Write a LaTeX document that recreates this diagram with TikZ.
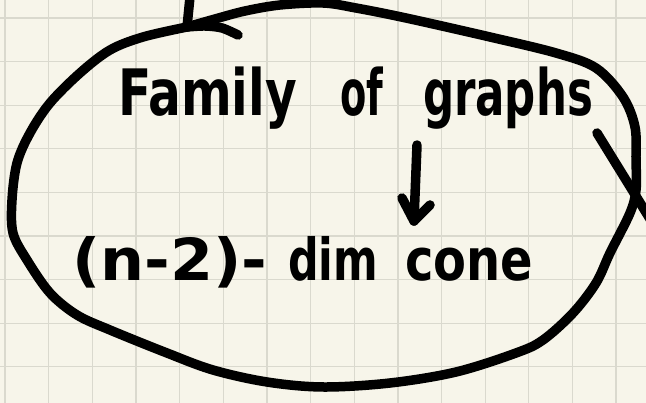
\documentclass[tikz,border=0pt]{standalone}
\usepackage{fontspec}
\setmainfont{DejaVu Sans}
\definecolor{paper}{HTML}{F7F5EA}
\definecolor{gridc}{HTML}{DAD9CE}
\begin{document}
\begin{tikzpicture}[x=1pt,y=-1pt,
  ink/.style={line width=9.5pt,line cap=round,line join=round,black},
  gridline/.style={gridc,line width=1.3pt},
  wordA/.style={anchor=base west,inner sep=0pt,outer sep=0pt,font=\bfseries\fontsize{64}{64}\selectfont},
  wordB/.style={anchor=base west,inner sep=0pt,outer sep=0pt,font=\bfseries\fontsize{58}{58}\selectfont}]
\useasboundingbox (0,0) rectangle (646,403);
\clip (0,0) rectangle (646,403);
\fill[paper] (0,0) rectangle (646,403);
\foreach \i in {0,...,14} \draw[gridline] ({5+43.65*\i},0) -- ({5+43.65*\i},403);
\foreach \j in {0,...,8} \draw[gridline] (0,{18+43.6*\j}) -- (646,{18+43.6*\j});
% big loop
\draw[ink] plot[smooth,tension=0.55] coordinates {(187,27) (143,37) (110,50) (80,73) (50,103) (30,133) (17,163) (12,200) (13,233) (27,260) (50,293) (77,315) (110,330) (167,353) (213,370) (267,382) (323,387) (390,383) (456,372) (516,353) (543,340) (573,313) (596,283) (610,253) (630,213) (636,190) (636,160) (635,127) (623,97) (596,68) (556,53) (490,37) (406,18) (356,8) (323,3) (280,5) (245,11) (215,19) (187,27)};
% arrowhead at the top
\coordinate (tip) at (187,27);
\draw[ink] (190,-3) -- (tip);
\draw[ink] plot[smooth] coordinates {(tip) (205,26) (222,28) (238,35)};
% outgoing stroke on the right
\coordinate (outS) at (597,133);
\coordinate (outE) at (655,227);
\draw[ink] (outS) -- (outE);
% text
\node[wordA] (fam) at (118,116) {\resizebox{179pt}{\height}{Family}};
\node[wordA] (of) at (340,116) {\resizebox{43pt}{\height}{of}};
\node[wordA] (graphs) at (423,116) {\resizebox{170pt}{\height}{graphs}};
\node[wordB] (paren) at (72,281) {\resizebox{195pt}{\height}{(n-2)-}};
\node[wordB] (dim) at (288,281) {\resizebox{90pt}{\height}{dim}};
\node[wordB] (cone) at (405,281) {\resizebox{128pt}{\height}{cone}};
% down arrow
\coordinate (arrS) at (417,145);
\coordinate (arrE) at (414,221);
\draw[ink] (arrS) -- (arrE);
\draw[ink] (402,198) -- (arrE) -- (430,205);
\end{tikzpicture}
\end{document}
